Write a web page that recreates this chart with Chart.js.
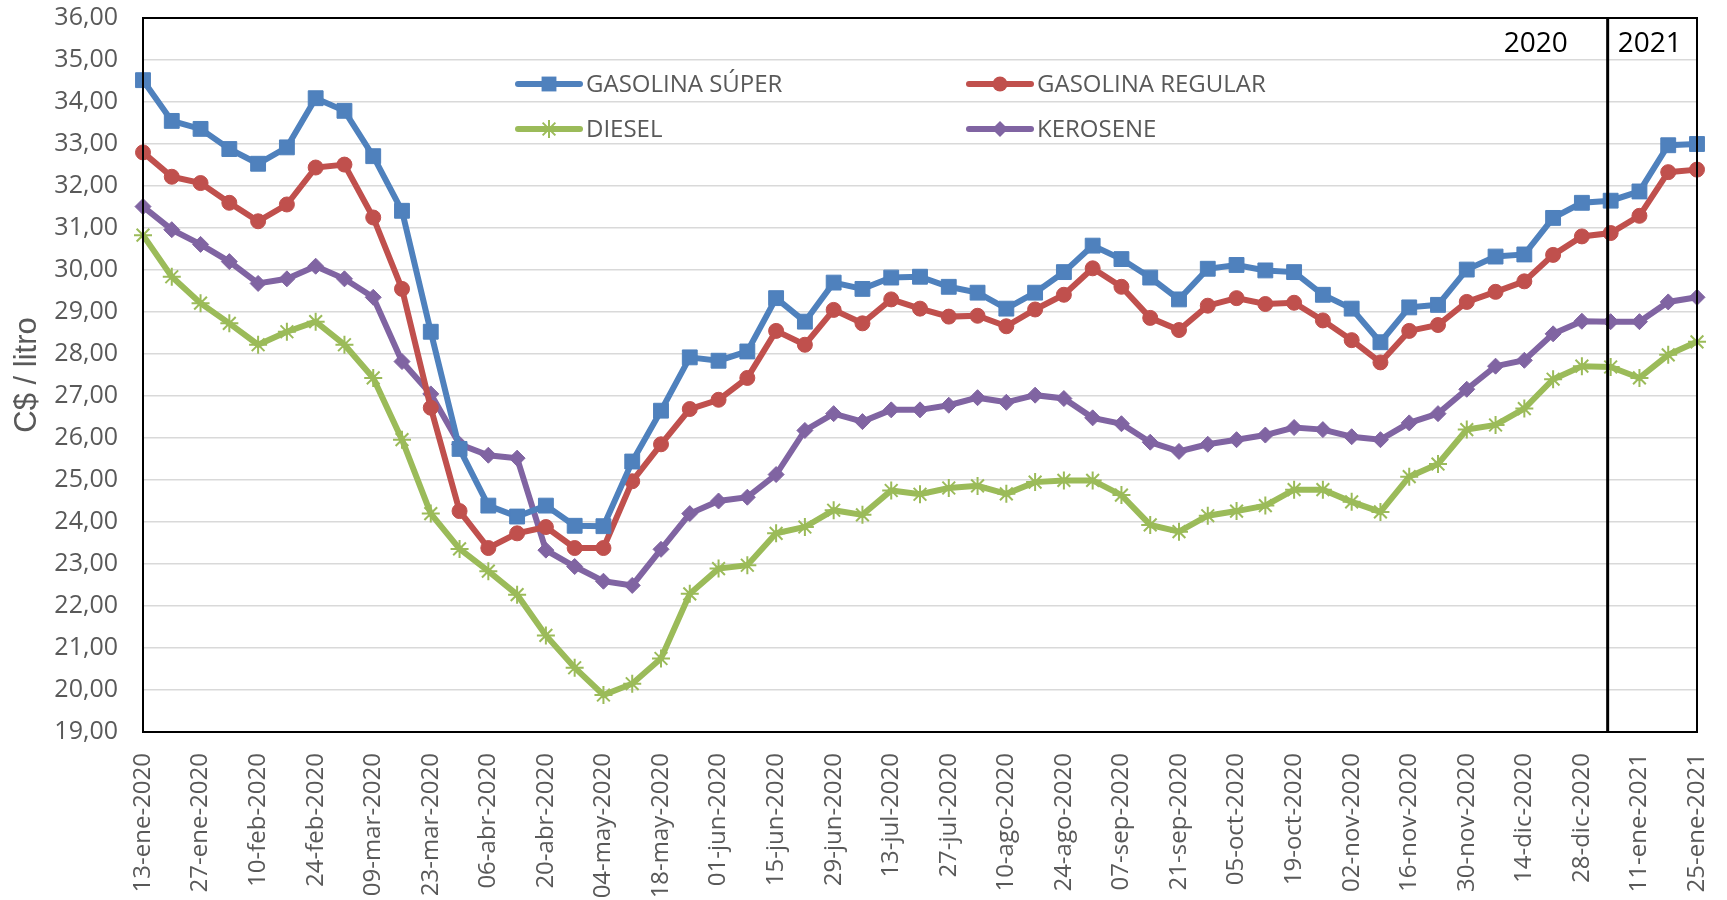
<!DOCTYPE html>
<html>
<head>
<meta charset="utf-8">
<script src="https://cdn.jsdelivr.net/npm/chart.js@4.4.1/dist/chart.umd.min.js"></script>
<style>
  html, body { margin: 0; padding: 0; background: #fff; }
  #wrap { width: 1727px; height: 900px; }
</style>
</head>
<body>
<div id="wrap"><canvas id="chart" width="1727" height="900"></canvas></div>
<script>
const fechas = [
  '13-ene-2020', '20-ene-2020', '27-ene-2020', '03-feb-2020', '10-feb-2020', '17-feb-2020', '24-feb-2020',
  '02-mar-2020', '09-mar-2020', '16-mar-2020', '23-mar-2020', '30-mar-2020', '06-abr-2020', '13-abr-2020',
  '20-abr-2020', '27-abr-2020', '04-may-2020', '11-may-2020', '18-may-2020', '25-may-2020', '01-jun-2020',
  '08-jun-2020', '15-jun-2020', '22-jun-2020', '29-jun-2020', '06-jul-2020', '13-jul-2020', '20-jul-2020',
  '27-jul-2020', '03-ago-2020', '10-ago-2020', '17-ago-2020', '24-ago-2020', '31-ago-2020', '07-sep-2020',
  '14-sep-2020', '21-sep-2020', '28-sep-2020', '05-oct-2020', '12-oct-2020', '19-oct-2020', '26-oct-2020',
  '02-nov-2020', '09-nov-2020', '16-nov-2020', '23-nov-2020', '30-nov-2020', '07-dic-2020', '14-dic-2020',
  '21-dic-2020', '28-dic-2020', '04-ene-2021', '11-ene-2021', '18-ene-2021', '25-ene-2021'
];

const gasolinaSuper = [
  34.52, 33.55, 33.36, 32.88, 32.53, 32.92, 34.09, 33.79, 32.71, 31.41, 28.53, 25.74, 24.39, 24.13,
  24.39, 23.91, 23.90, 25.44, 26.65, 27.92, 27.84, 28.06, 29.33, 28.77, 29.70, 29.55, 29.82, 29.84,
  29.60, 29.46, 29.08, 29.46, 29.95, 30.58, 30.26, 29.82, 29.30, 30.03, 30.12, 29.99, 29.95,
  29.41, 29.08, 28.28, 29.11, 29.17, 30.01, 30.32, 30.37, 31.24, 31.60, 31.65, 31.87, 32.97, 33.00
];
const gasolinaRegular = [
  32.80, 32.22, 32.07, 31.60, 31.16, 31.56, 32.44, 32.51, 31.25, 29.55, 26.72, 24.26, 23.38, 23.73,
  23.88, 23.38, 23.38, 24.97, 25.85, 26.69, 26.91, 27.43, 28.55, 28.22, 29.05, 28.73, 29.30, 29.08,
  28.89, 28.91, 28.66, 29.06, 29.41, 30.04, 29.60, 28.86, 28.57, 29.15, 29.33, 29.19, 29.22,
  28.80, 28.33, 27.80, 28.55, 28.69, 29.24, 29.48, 29.73, 30.36, 30.80, 30.88, 31.29, 32.33, 32.39
];
const diesel = [
  30.83, 29.84, 29.21, 28.73, 28.22, 28.53, 28.77, 28.22, 27.43, 25.96, 24.20, 23.36, 22.83, 22.27,
  21.30, 20.53, 19.88, 20.15, 20.75, 22.29, 22.89, 22.97, 23.73, 23.88, 24.28, 24.17, 24.75, 24.66,
  24.81, 24.86, 24.67, 24.95, 24.99, 24.99, 24.64, 23.93, 23.77, 24.15, 24.26, 24.39, 24.77,
  24.77, 24.48, 24.24, 25.08, 25.38, 26.20, 26.31, 26.70, 27.40, 27.71, 27.69, 27.43, 27.98, 28.29
];
const kerosene = [
  31.51, 30.96, 30.61, 30.20, 29.68, 29.79, 30.09, 29.79, 29.35, 27.82, 27.05, 25.85, 25.59, 25.52,
  23.33, 22.94, 22.59, 22.49, 23.35, 24.20, 24.50, 24.59, 25.13, 26.18, 26.58, 26.39, 26.67, 26.67,
  26.78, 26.96, 26.85, 27.02, 26.94, 26.48, 26.34, 25.90, 25.68, 25.85, 25.96, 26.07, 26.25,
  26.20, 26.03, 25.96, 26.36, 26.58, 27.16, 27.71, 27.85, 28.48, 28.78, 28.77, 28.77, 29.24, 29.35
];

const yMin = 19, yMax = 36;
const indiceCorte = 51; // primera semana de 2021
const gris = '#595959';

function serie(label, data, color, estilo, radio) {
  return {
    label: label,
    data: data,
    borderColor: color,
    backgroundColor: color,
    borderWidth: 6,
    pointStyle: estilo,
    pointRadius: radio,
    pointBorderWidth: estilo === 'star' ? 2 : 1,
    pointBackgroundColor: color,
    pointBorderColor: color,
    tension: 0
  };
}

// dibuja un marcador para la leyenda
function marcador(ctx, estilo, x, y, r, color) {
  ctx.fillStyle = color;
  ctx.strokeStyle = color;
  ctx.beginPath();
  if (estilo === 'rect') {
    const s = Math.SQRT1_2 * r;
    ctx.rect(x - s, y - s, 2 * s, 2 * s);
    ctx.fill();
  } else if (estilo === 'circle') {
    ctx.arc(x, y, r, 0, Math.PI * 2);
    ctx.fill();
  } else if (estilo === 'rectRot') {
    ctx.moveTo(x - r, y); ctx.lineTo(x, y - r); ctx.lineTo(x + r, y); ctx.lineTo(x, y + r);
    ctx.closePath();
    ctx.fill();
  } else {
    ctx.lineWidth = 2;
    const d = r * Math.SQRT1_2;
    ctx.moveTo(x, y - r); ctx.lineTo(x, y + r);
    ctx.moveTo(x - d, y - d); ctx.lineTo(x + d, y + d);
    ctx.moveTo(x - d, y + d); ctx.lineTo(x + d, y - d);
    ctx.stroke();
  }
}

const extras = {
  id: 'extras',
  afterDatasetsDraw(chart) {
    const { ctx, chartArea: a, scales } = chart;
    ctx.save();

    const xc = scales.x.getPixelForValue(indiceCorte) - 3;
    ctx.strokeStyle = '#000';
    ctx.lineWidth = 3;
    ctx.beginPath();
    ctx.moveTo(xc, a.top);
    ctx.lineTo(xc, a.bottom);
    ctx.stroke();

    ctx.lineWidth = 2;
    ctx.strokeRect(a.left, a.top, a.right - a.left, a.bottom - a.top);

    ctx.font = '28px "Open Sans"';
    ctx.fillStyle = '#000';
    ctx.textBaseline = 'middle';
    ctx.textAlign = 'right';
    ctx.fillText('2020', xc - 40, 44);
    ctx.textAlign = 'left';
    ctx.fillText('2021', xc + 10, 44);

    // leyenda en dos columnas
    const pos = [[518, 84], [969, 84], [518, 129], [969, 129]];
    chart.data.datasets.forEach((ds, i) => {
      const [x, y] = pos[i];
      ctx.strokeStyle = ds.borderColor;
      ctx.lineWidth = 6;
      ctx.lineCap = 'round';
      ctx.beginPath();
      ctx.moveTo(x, y);
      ctx.lineTo(x + 62, y);
      ctx.stroke();
      ctx.lineCap = 'butt';
      marcador(ctx, ds.pointStyle, x + 31, y, ds.pointRadius, ds.borderColor);
      ctx.fillStyle = gris;
      ctx.font = '24px "Open Sans"';
      ctx.textAlign = 'left';
      ctx.textBaseline = 'middle';
      ctx.fillText(ds.label, x + 68, y + 1);
    });

    ctx.restore();
  }
};

new Chart(document.getElementById('chart'), {
  type: 'line',
  data: {
    labels: fechas,
    datasets: [
      serie('GASOLINA SÚPER', gasolinaSuper, '#4F81BD', 'rect', 10.5),
      serie('GASOLINA REGULAR', gasolinaRegular, '#C0504D', 'circle', 7.5),
      serie('DIESEL', diesel, '#9BBB59', 'star', 9),
      serie('KEROSENE', kerosene, '#8064A2', 'rectRot', 8)
    ]
  },
  options: {
    responsive: false,
    animation: false,
    devicePixelRatio: 1,
    layout: { padding: { top: 18, right: 30, left: 0, bottom: 0 } },
    plugins: {
      legend: { display: false },
      tooltip: { enabled: false }
    },
    scales: {
      x: {
        offset: false,
        grid: { display: false, drawTicks: true, tickLength: 21, tickColor: 'rgba(0,0,0,0)' },
        border: { color: '#000', width: 2 },
        afterFit: (s) => { s.height = 168; },
        ticks: {
          autoSkip: false,
          minRotation: 90,
          maxRotation: 90,
          padding: 0,
          color: gris,
          font: { family: 'Open Sans', size: 24 },
          callback: function (v, i) { return i % 2 === 0 ? fechas[i] : ''; }
        }
      },
      y: {
        min: yMin,
        max: yMax,
        afterFit: (s) => { s.width = 143; },
        grid: { color: '#D9D9D9', lineWidth: 1.5, drawTicks: true, tickLength: 25, tickColor: 'rgba(0,0,0,0)' },
        border: { color: '#000', width: 2 },
        ticks: {
          stepSize: 1,
          padding: 0,
          color: gris,
          font: { family: 'Open Sans', size: 25 },
          callback: (v) => v.toFixed(2).replace('.', ',')
        },
        title: {
          display: true,
          text: 'C$ / litro',
          color: gris,
          font: { family: 'Liberation Sans', size: 31 },
          padding: { top: 9, bottom: 0 }
        }
      }
    }
  },
  plugins: [extras]
});
</script>
</body>
</html>
